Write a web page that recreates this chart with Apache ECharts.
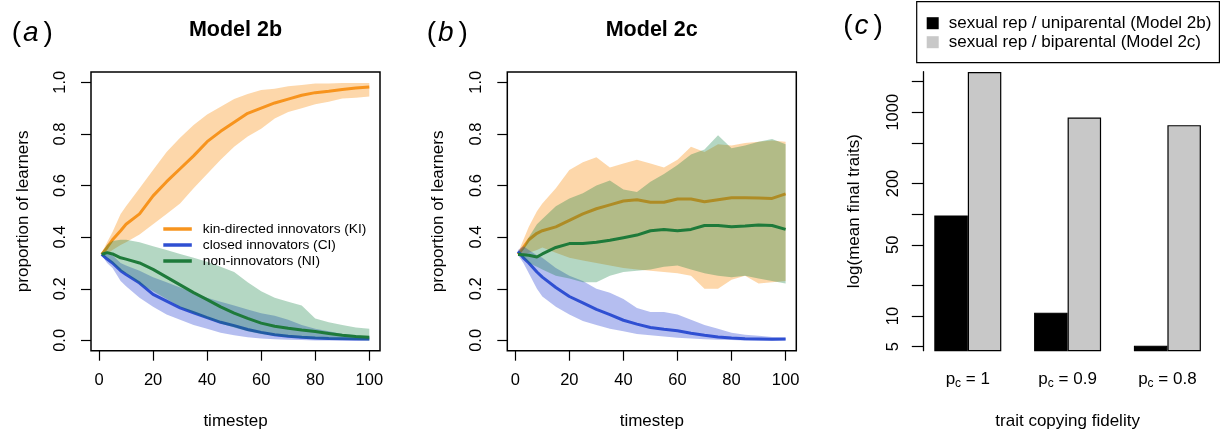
<!DOCTYPE html>
<html>
<head>
<meta charset="utf-8">
<script src="https://cdn.jsdelivr.net/npm/echarts@6/dist/echarts.min.js"></script>
<style>html,body{margin:0;padding:0;background:#fff}#c{width:1221px;height:434px}</style>
</head>
<body>
<div id="c"></div>
<script>
// ---------- DATA ----------
const timesteps = [1,3,5,8,10,15,20,25,30,35,40,45,50,55,60,65,70,75,80,85,90,95,100];
const xTicks = [0,20,40,60,80,100];
const yTicks = [0,0.2,0.4,0.6,0.8,1.0];

// Panel (a) Model 2b
const kiA_mean = [.333,.36,.39,.425,.45,.49,.56,.615,.665,.715,.77,.81,.845,.88,.9,.92,.935,.95,.96,.965,.972,.978,.982];
const kiA_hi   = [.34,.38,.42,.49,.52,.59,.66,.73,.785,.835,.875,.905,.935,.955,.97,.975,.985,.99,.995,.995,.997,.997,.997];
const kiA_lo   = [.33,.335,.35,.37,.38,.41,.45,.49,.53,.59,.645,.7,.75,.79,.82,.86,.885,.9,.915,.925,.937,.94,.945];
const ciA_mean = [.333,.315,.3,.27,.255,.222,.178,.152,.126,.107,.088,.07,.057,.042,.031,.022,.016,.012,.009,.007,.006,.005,.005];
const ciA_hi   = [.34,.34,.33,.3,.29,.27,.245,.225,.205,.185,.165,.15,.135,.12,.105,.095,.08,.06,.045,.035,.025,.02,.012];
const ciA_lo   = [.33,.3,.28,.23,.21,.165,.13,.1,.08,.06,.045,.03,.02,.012,.007,.004,.002,.001,0,0,0,0,0];
const niA_mean = [.333,.34,.335,.32,.315,.3,.275,.245,.215,.185,.158,.13,.106,.085,.067,.055,.047,.04,.034,.027,.02,.015,.012];
const niA_hi   = [.34,.37,.385,.39,.39,.38,.365,.35,.335,.32,.305,.285,.265,.225,.19,.165,.15,.135,.085,.07,.06,.05,.045];
const niA_lo   = [.33,.32,.3,.27,.26,.22,.19,.16,.13,.105,.085,.065,.05,.035,.025,.018,.012,.008,.005,.003,.002,.001,0];

// Panel (b) Model 2c
const kiB_mean = [.333,.36,.39,.415,.425,.44,.465,.49,.51,.525,.54,.545,.535,.535,.548,.548,.537,.545,.553,.553,.552,.55,.568];
const kiB_hi   = [.34,.39,.44,.5,.53,.59,.66,.69,.71,.67,.685,.7,.685,.67,.7,.75,.73,.76,.755,.765,.77,.775,.77];
const kiB_lo   = [.33,.33,.34,.35,.36,.34,.32,.31,.3,.29,.28,.275,.27,.265,.26,.25,.2,.2,.235,.25,.22,.225,.23];
const ciB_mean = [.345,.32,.3,.265,.245,.205,.17,.145,.12,.1,.078,.063,.05,.043,.037,.028,.02,.013,.009,.006,.005,.004,.005];
const ciB_hi   = [.35,.365,.35,.33,.32,.28,.25,.23,.2,.185,.16,.125,.11,.11,.1,.08,.06,.045,.03,.022,.018,.013,.01];
const ciB_lo   = [.33,.3,.26,.2,.17,.13,.1,.075,.06,.045,.035,.025,.02,.015,.01,.007,.004,.002,.001,0,0,0,0];
const niB_mean = [.333,.332,.33,.323,.335,.36,.375,.375,.38,.388,.398,.408,.425,.43,.425,.43,.445,.445,.44,.443,.447,.445,.43];
const niB_hi   = [.34,.36,.4,.45,.47,.52,.55,.57,.6,.62,.585,.575,.615,.645,.68,.72,.74,.795,.745,.755,.77,.78,.76];
const niB_lo   = [.33,.32,.3,.285,.275,.25,.24,.225,.225,.25,.265,.27,.275,.285,.29,.275,.26,.25,.245,.25,.24,.23,.22];

// Panel (c)
const fidelity = ['1','0.9','0.8'];
const uniparental = [97, 10.8, 5.12];
const biparental = [2480, 887, 747];
const logTicks = [5,10,20,50,100,200,500,1000,2000];
const logLabels = [5,10,50,200,1000];

const seriesNames = ['kin-directed innovators (KI)','closed innovators (CI)','non-innovators (NI)'];
const barNames = ['sexual rep / uniparental (Model 2b)','sexual rep / biparental (Model 2c)'];

// ---------- STYLE ----------
const FONT = 'Liberation Sans, Arial, Helvetica, sans-serif';
const C_KI = '#F7941E', C_CI = '#2F4FD2', C_NI = '#1E7A3A';
const B_KI = 'rgba(249,141,12,0.35)', B_CI = 'rgba(10,40,205,0.3)', B_NI = 'rgba(5,122,55,0.3)';

function zip(ys){ return timesteps.map((x,i)=>[x, ys[i]]); }

function band(gi, lo, hi, color, z){
  return {
    type:'custom', name:'band', xAxisIndex:gi, yAxisIndex:gi, silent:true, z:z,
    data:[[timesteps[0], lo[0]]],
    renderItem: function(params, api){
      const pts = [];
      for (let i=0;i<timesteps.length;i++) pts.push(api.coord([timesteps[i], hi[i]]));
      for (let i=timesteps.length-1;i>=0;i--) pts.push(api.coord([timesteps[i], lo[i]]));
      return {type:'polygon', shape:{points:pts}, style:{fill:color, stroke:null}};
    }
  };
}
function line(gi, ys, color, name, z){
  return {type:'line', name:name, xAxisIndex:gi, yAxisIndex:gi, data:zip(ys), showSymbol:false, symbol:'none',
    lineStyle:{color:color, width:3}, itemStyle:{color:color}, silent:true, z:z};
}

function xAxisTS(gi){
  return {type:'value', gridIndex:gi, min:-2.96, max:103.96,
    name:'timestep', nameLocation:'middle', nameGap:62,
    nameTextStyle:{color:'#000', fontSize:17, fontFamily:FONT},
    axisLine:{show:false, onZero:false}, splitLine:{show:false},
    axisTick:{show:true, inside:false, length:10, customValues:xTicks, lineStyle:{color:'#000', width:1.2}},
    axisLabel:{customValues:xTicks, color:'#000', fontSize:16.5, fontFamily:FONT, margin:21}};
}
function yAxisP(gi, gap){
  return {type:'value', gridIndex:gi, min:-0.04, max:1.04,
    name:'proportion of learners', nameLocation:'middle', nameGap:gap,
    nameTextStyle:{color:'#000', fontSize:17, fontFamily:FONT},
    axisLine:{show:false, onZero:false}, splitLine:{show:false},
    axisTick:{show:true, inside:false, length:10, customValues:yTicks, lineStyle:{color:'#000', width:1.2}},
    axisLabel:{customValues:yTicks, rotate:90, color:'#000', fontSize:16.5, fontFamily:FONT, margin:22,
      formatter:v=>Number(v).toFixed(1)}};
}

const chart = echarts.init(document.getElementById('c'), null, {renderer:'canvas'});
chart.setOption({
  animation:false,
  backgroundColor:'#fff',
  textStyle:{fontFamily:FONT},
  grid:[
    {left:91, top:72, width:289, height:278.7, show:true, borderColor:'#000', borderWidth:1.5, backgroundColor:'transparent', outerBoundsMode:'none'},
    {left:507.3, top:72, width:289, height:278.7, show:true, borderColor:'#000', borderWidth:1.5, backgroundColor:'transparent', outerBoundsMode:'none'},
    {left:917.9, top:71.7, width:299.4, height:279, show:false, outerBoundsMode:'none'}
  ],
  xAxis:[
    xAxisTS(0), xAxisTS(1),
    {type:'category', gridIndex:2, data:fidelity,
      name:'trait copying fidelity', nameLocation:'middle', nameGap:62,
      nameTextStyle:{color:'#000', fontSize:17, fontFamily:FONT},
      axisLine:{show:false, onZero:false}, axisTick:{show:false}, splitLine:{show:false},
      axisLabel:{color:'#000', margin:20, interval:0,
        formatter:v=>'{p|p}{s|c}{p| = '+v+'}',
        rich:{p:{fontSize:17, fontFamily:FONT, color:'#000', verticalAlign:'bottom', padding:[0,0,2,0]},
              s:{fontSize:12, fontFamily:FONT, color:'#000', verticalAlign:'bottom'}}}}
  ],
  yAxis:[
    yAxisP(0, 59), yAxisP(1, 60),
    {type:'log', logBase:10, gridIndex:2, min:4.57, max:2500, offset:-5.4,
      name:'log(mean final traits)', nameLocation:'middle', nameGap:60,
      nameTextStyle:{color:'#000', fontSize:17, fontFamily:FONT},
      axisLine:{show:true, onZero:false, lineStyle:{color:'#000', width:1.3}}, splitLine:{show:false},
      axisTick:{show:true, inside:false, length:11.5, customValues:logTicks, lineStyle:{color:'#000', width:1.2}},
      axisLabel:{customValues:logLabels, rotate:90, color:'#000', fontSize:16.5, fontFamily:FONT, margin:21,
        formatter:v=>String(Math.round(v))}}
  ],
  legend:[
    {data:seriesNames, left:163.3, top:221, orient:'vertical', icon:'rect', itemWidth:28.5, itemHeight:3.5, itemGap:0,
      selectedMode:false, padding:0, z:20,
      textStyle:{fontSize:13.7, lineHeight:16, color:'#000', fontFamily:FONT, padding:[0,0,0,6]}},
    {data:barNames, left:916.7, top:1.7, orient:'vertical', icon:'rect', itemWidth:12, itemHeight:12, itemGap:0,
      selectedMode:false, padding:[12,8,11,10], borderColor:'#000', borderWidth:1.2, backgroundColor:'#fff',
      itemStyle:{borderWidth:0},
      textStyle:{fontSize:17, lineHeight:19, color:'#000', fontFamily:FONT, padding:[0,0,0,5]}}
  ],
  graphic:[
    {type:'text', x:11.7, y:33.5, style:{text:'{p|(}{i|a}{p|)}', textVerticalAlign:'middle',
      rich:{p:{fontSize:28, fontFamily:FONT, fill:'#000'}, i:{fontSize:28, fontFamily:FONT, fontStyle:'italic', fill:'#000', padding:[0,5,0,2]}}}},
    {type:'text', x:235.5, y:30, style:{text:'Model 2b', textAlign:'center', textVerticalAlign:'middle', fontSize:21.5, fontWeight:'bold', fontFamily:FONT, fill:'#000'}},
    {type:'text', x:426.7, y:33.5, style:{text:'{p|(}{i|b}{p|)}', textVerticalAlign:'middle',
      rich:{p:{fontSize:28, fontFamily:FONT, fill:'#000'}, i:{fontSize:28, fontFamily:FONT, fontStyle:'italic', fill:'#000', padding:[0,5,0,2]}}}},
    {type:'text', x:651.7, y:30, style:{text:'Model 2c', textAlign:'center', textVerticalAlign:'middle', fontSize:21.5, fontWeight:'bold', fontFamily:FONT, fill:'#000'}},
    {type:'text', x:843.3, y:25.8, style:{text:'{p|(}{i|c}{p|)}', textVerticalAlign:'middle',
      rich:{p:{fontSize:28, fontFamily:FONT, fill:'#000'}, i:{fontSize:28, fontFamily:FONT, fontStyle:'italic', fill:'#000', padding:[0,5,0,2]}}}}
  ],
  series:[
    band(0, kiA_lo, kiA_hi, B_KI, 1), line(0, kiA_mean, C_KI, seriesNames[0], 2),
    band(0, ciA_lo, ciA_hi, B_CI, 3), line(0, ciA_mean, C_CI, seriesNames[1], 4),
    band(0, niA_lo, niA_hi, B_NI, 5), line(0, niA_mean, C_NI, seriesNames[2], 6),
    band(1, kiB_lo, kiB_hi, B_KI, 1), line(1, kiB_mean, C_KI, 'KI (2c)', 2),
    band(1, ciB_lo, ciB_hi, B_CI, 3), line(1, ciB_mean, C_CI, 'CI (2c)', 4),
    band(1, niB_lo, niB_hi, B_NI, 5), line(1, niB_mean, C_NI, 'NI (2c)', 6),
    {type:'bar', name:barNames[0], xAxisIndex:2, yAxisIndex:2, data:uniparental, barWidth:33.5, barGap:'0%', clip:true,
      itemStyle:{color:'#000', borderColor:'#000', borderWidth:1.2}, silent:true},
    {type:'bar', name:barNames[1], xAxisIndex:2, yAxisIndex:2, data:biparental, barWidth:33.5, barGap:'0%', clip:true,
      itemStyle:{color:'#C8C8C8', borderColor:'#000', borderWidth:1.2}, silent:true}
  ]
});
</script>
</body>
</html>
